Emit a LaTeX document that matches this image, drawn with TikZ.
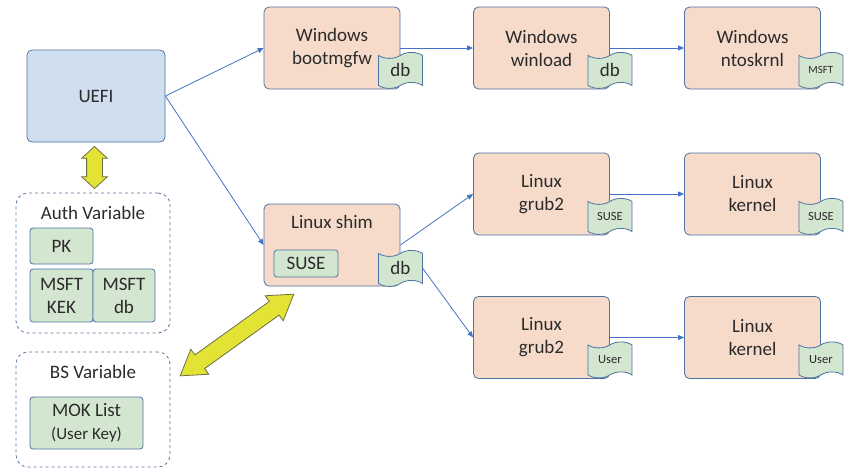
\documentclass[tikz,border=0pt]{standalone}
\usepackage{fontspec}
\setmainfont{Carlito}
\usepackage{tikz}
\usetikzlibrary{arrows.meta}
\usetikzlibrary{calc}
\usetikzlibrary{shapes.symbols}
\usetikzlibrary{shapes.arrows}
\definecolor{peach}{HTML}{F6DBCA}
\definecolor{uefiblue}{HTML}{CFDFEF}
\definecolor{keygreen}{HTML}{D3E6CF}
\definecolor{boxline}{HTML}{4E72A3}
\definecolor{flow}{HTML}{4472C4}
\definecolor{ink}{HTML}{2B2B2B}
\definecolor{lime}{HTML}{E2E334}
\definecolor{limeline}{HTML}{6E6E45}
\tikzset{box/.style={draw=boxline, line width=0.8pt, rounded corners=5pt, align=center, text=ink, font=\fontsize{19}{23}\selectfont}}
\tikzset{bootbox/.style={box, fill=peach, minimum width=136pt, minimum height=82pt}}
\tikzset{keybox/.style={box, fill=keygreen, rounded corners=3pt}}
\tikzset{keytag/.style={tape, draw=boxline, line width=0.8pt, fill=keygreen, text=ink, minimum width=44pt, minimum height=36pt, inner sep=0pt, tape bend height=6pt}}
\tikzset{store/.style={draw=boxline!80!gray, dashed, line width=0.8pt, rounded corners=12pt, minimum width=154pt}}
\tikzset{arrow/.style={draw=flow, line width=0.8pt, -{Triangle[length=6pt,width=5pt]}}}
\tikzset{bigarrow/.style={double arrow, draw=limeline, line width=0.8pt, fill=lime}}

\begin{document}
\begin{tikzpicture}[x=1pt,y=-1pt]
        \useasboundingbox (0,0) rectangle (856,472);

        % firmware and key stores
        \node[box, fill=uefiblue, minimum width=138pt, minimum height=92pt] (uefi) at (96,96) {UEFI};
        \node[store, minimum height=140pt] (auth) at (93,263) {};
        \node[text=ink, font=\fontsize{19}{23}\selectfont] (authtext) at (93,213) {Auth Variable};
        \node[keybox, minimum width=63pt, minimum height=36pt] (pk) at (61.5,246) {PK};
        \node[keybox, minimum width=63pt, minimum height=53pt] (kek) at (61.5,295.5) {MSFT\\KEK};
        \node[keybox, minimum width=62pt, minimum height=53pt] (msdb) at (124,295.5) {MSFT\\db};
        \node[store, minimum height=115pt] (bsvar) at (93,409.5) {};
        \node[text=ink, font=\fontsize{19}{23}\selectfont] (bstext) at (93,372) {BS Variable};
        \node[keybox, minimum width=113pt, minimum height=52pt] (mok) at (86.5,423)
            {MOK List\\{\fontsize{17}{20}\selectfont (User Key)}};

        % boot chain
        \node[bootbox] (bootmgr) at (332,48) {Windows\\bootmgfw};
        \node[bootbox] (winload) at (541.5,48) {Windows\\winload};
        \node[bootbox] (ntos) at (752.5,48) {Windows\\ntoskrnl};
        \node[bootbox] (shim) at (332,245) {};
        \node[text=ink, font=\fontsize{19}{23}\selectfont] (shimtext) at (332,222) {Linux shim};
        \node[keybox, minimum width=64pt, minimum height=27pt, inner sep=0pt] (shimkey) at (306,263.5) {SUSE};
        \node[bootbox] (grubs) at (541.5,194) {Linux\\grub2};
        \node[bootbox] (kerns) at (752.5,194) {Linux\\kernel};
        \node[bootbox] (grubu) at (541.5,337.5) {Linux\\grub2};
        \node[bootbox] (kernu) at (752.5,337.5) {Linux\\kernel};

        % signing keys
        \node[keytag, font=\fontsize{19}{23}\selectfont] (bootdb) at ([yshift=19pt]bootmgr.south east) {db};
        \node[keytag, font=\fontsize{19}{23}\selectfont] (windb) at ([yshift=19pt]winload.south east) {db};
        \node[keytag, font=\fontsize{11}{13}\selectfont] (ntoskey) at ([yshift=19pt]ntos.south east) {MSFT};
        \node[keytag, font=\fontsize{19}{23}\selectfont] (shimdb) at ([yshift=18pt]shim.south east) {db};
        \node[keytag, font=\fontsize{12.5}{15}\selectfont] (grubsk) at ([yshift=19pt]grubs.south east) {SUSE};
        \node[keytag, font=\fontsize{12.5}{15}\selectfont] (kernsk) at ([yshift=19pt]kerns.south east) {SUSE};
        \node[keytag, font=\fontsize{12.5}{15}\selectfont] (grubuk) at ([yshift=19pt]grubu.south east) {User};
        \node[keytag, font=\fontsize{12.5}{15}\selectfont] (kernuk) at ([yshift=19pt]kernu.south east) {User};

        \draw[arrow] (uefi.east) -- (bootmgr.west);
        \draw[arrow] (uefi.east) -- (shim.west);
        \draw[arrow] (bootmgr.east) -- (winload.west);
        \draw[arrow] (winload.east) -- (ntos.west);
        \draw[arrow] (shim.east) -- (grubs.west);
        \draw[arrow] (shimdb.east) -- (grubu.west);
        \draw[arrow] (grubs.east) -- (kerns.west);
        \draw[arrow] (grubu.east) -- (kernu.west);

        % variable access
        \node[bigarrow, rotate=90, inner sep=7.5pt, minimum height=42pt, minimum width=25pt,
            double arrow head extend=5pt, double arrow tip angle=95]
            (authlink) at ($(uefi.south)!0.5!(auth.north)$) {};
        \node[bigarrow, rotate=35.7, inner sep=8pt, minimum height=140pt, minimum width=30pt,
            double arrow head extend=7pt, double arrow tip angle=65]
            (moklink) at (237,335) {};
    \end{tikzpicture}
\end{document}
